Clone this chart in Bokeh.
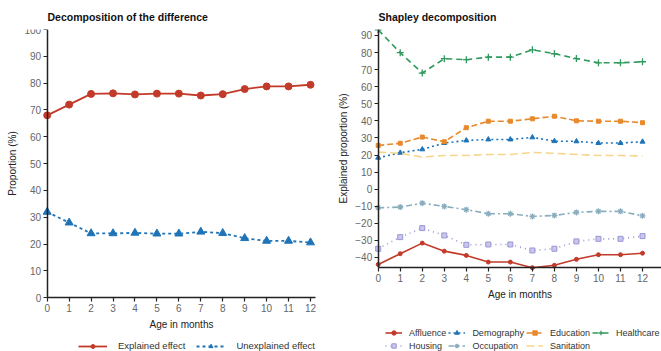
from bokeh.plotting import figure
from bokeh.layouts import row
from bokeh.models import Range1d, FixedTicker, Legend, LegendItem
from bokeh.embed import file_html
from bokeh.resources import INLINE

months = list(range(13))

explained = [68, 72, 76, 76.2, 75.8, 76.1, 76.1, 75.4, 75.9, 77.8, 78.8, 78.8, 79.4]
unexplained = [32, 28, 24, 24, 24.2, 23.9, 23.9, 24.6, 24.1, 22.2, 21.2, 21.2, 20.6]

affluence = [-44.1, -37.8, -31.6, -36.3, -38.8, -42.7, -42.7, -46.0, -44.6, -41.1, -38.4, -38.4, -37.5]
demography = [18.4, 21.3, 23.3, 27.0, 28.5, 29.1, 29.1, 30.3, 28.1, 28.0, 27.0, 27.0, 27.8]
education = [25.6, 26.9, 30.5, 27.8, 36.0, 39.8, 39.8, 41.2, 42.7, 40.0, 39.8, 39.8, 38.9]
healthcare = [93.3, 79.9, 68.0, 76.4, 75.8, 77.3, 77.3, 81.6, 79.3, 76.5, 74.0, 74.0, 74.6]
housing = [-34.9, -28.1, -22.8, -27.1, -32.6, -32.4, -32.4, -35.9, -34.9, -30.6, -29.1, -29.1, -27.5]
occupation = [-10.9, -10.5, -8.2, -10.1, -12.0, -14.4, -14.4, -16.0, -15.4, -13.6, -13.0, -13.0, -15.6]
sanitation = [21.7, 21.0, 18.8, 19.7, 19.7, 20.3, 20.3, 21.5, 21.0, 20.3, 19.7, 19.7, 19.4]

left_yticks = list(range(0, 101, 10))
right_yticks = list(range(-40, 91, 10))

RED = "#c23b2a"
BLUE = "#1f74b8"
ORANGE = "#e8892c"
GREEN = "#2f9a5c"
PURPLE = "#9a96d4"
OCC = "#8aaebe"
SAN = "#f6d68c"

FONT = "Liberation Sans"
H = 351
TOP = 29


def style(p, yticks, xbounds, ybounds, title_offset):
    p.outline_line_color = None
    p.xgrid.grid_line_color = None
    p.ygrid.grid_line_color = None
    p.title.text_font = FONT
    p.title.text_font_size = "10.5px"
    p.title.text_font_style = "bold"
    p.title.text_color = "#111111"
    p.title.standoff = 13
    p.title.offset = title_offset
    for ax in (p.xaxis[0], p.yaxis[0]):
        ax.axis_line_color = "#222222"
        ax.axis_line_width = 1.5
        ax.major_tick_line_color = "#222222"
        ax.major_tick_line_width = 1.2
        ax.major_tick_out = 4
        ax.major_tick_in = 0
        ax.minor_tick_line_color = None
        ax.major_label_text_font = FONT
        ax.major_label_text_font_size = "10px"
        ax.major_label_text_color = "#666666"
        ax.major_label_standoff = 2
        ax.axis_label_text_font = FONT
        ax.axis_label_text_font_size = "10px"
        ax.axis_label_text_font_style = "normal"
        ax.axis_label_text_color = "#222222"
        ax.axis_label_standoff = 4
    p.xaxis[0].ticker = FixedTicker(ticks=months)
    p.yaxis[0].ticker = FixedTicker(ticks=yticks)
    p.xaxis[0].bounds = xbounds
    p.yaxis[0].bounds = ybounds
    p.xaxis[0].fixed_location = ybounds[0]
    p.yaxis[0].fixed_location = xbounds[0]


# ---------------- left panel ----------------
LW = 330
lx_ppu = (310 - 46.7) / 12.0
l_ppu = (297.3 - TOP) / 100.0
l_ymin = -(H - 297.3) / l_ppu
p1 = figure(width=LW, height=H, output_backend="svg", toolbar_location=None,
            x_range=Range1d(-46.7 / lx_ppu, (LW - 46.7) / lx_ppu),
            y_range=Range1d(l_ymin, 100),
            title="Decomposition of the difference",
            min_border_left=0, min_border_top=TOP, min_border_right=0, min_border_bottom=0)
style(p1, left_yticks, (0, 12.25), (0, 100), 47)
p1.xaxis.axis_label = "Age in months"
p1.yaxis.axis_label = "Proportion (%)"

l_exp = p1.line(months, explained, line_color=RED, line_width=1.8)
s_exp = p1.scatter(months, explained, marker="circle", size=7, fill_color=RED, line_color=RED)
l_une = p1.line(months, unexplained, line_color=BLUE, line_width=1.8, line_dash="3 3")
s_une = p1.scatter(months, unexplained, marker="triangle", size=8, fill_color=BLUE, line_color=BLUE)

leg1 = Legend(items=[LegendItem(label="Explained effect", renderers=[l_exp, s_exp]),
                     LegendItem(label="Unexplained effect", renderers=[l_une, s_une])],
              orientation="horizontal", location=(78, 0),
              glyph_width=29, glyph_height=10, label_height=10, label_standoff=11,
              spacing=11, padding=0, margin=0, border_line_color=None,
              background_fill_alpha=0,
              label_text_font=FONT, label_text_font_size="9.5px", label_text_color="#333333")
p1.add_layout(leg1, "center")

# ---------------- right panel ----------------
RW = 331
rx0 = 377.7 - LW
rx_ppu = (642 - 377.7) / 12.0
r_ppu = (267.2 - TOP) / (93.5 + 46)
r_ymin = -46 - (H - 267.2) / r_ppu
r_xmax = (RW - rx0) / rx_ppu
p2 = figure(width=RW, height=H, output_backend="svg", toolbar_location=None,
            x_range=Range1d(-rx0 / rx_ppu, r_xmax), y_range=Range1d(r_ymin, 93.5),
            title="Shapley decomposition",
            min_border_left=0, min_border_top=TOP, min_border_right=0, min_border_bottom=0)
style(p2, right_yticks, (0, r_xmax), (-46, 93.5), 48)
p2.xaxis.axis_label = "Age in months"
p2.yaxis.axis_label = "Explained proportion (%)"

series = [
    ("Affluence", affluence, RED, None, "circle", 4),
    ("Demography", demography, BLUE, "2 3", "triangle", 5),
    ("Education", education, ORANGE, "6 3", "square", 4),
    ("Healthcare", healthcare, GREEN, "6 4", "cross", 7),
    ("Housing", housing, PURPLE, "1 4", "square", 5),
    ("Occupation", occupation, OCC, "6 3 2 3", "asterisk", 6),
    ("Sanitation", sanitation, SAN, "8 4", None, 0),
]

items = []
for name, vals, col, dash, mk, sz in series:
    kw = dict(line_color=col, line_width=1.6)
    if dash:
        kw["line_dash"] = dash
    lr = p2.line(months, vals, **kw)
    rs = [lr]
    if mk:
        if mk in ("cross", "asterisk"):
            sr = p2.scatter(months, vals, marker=mk, size=sz, line_color=col, line_width=1.3)
        elif name == "Housing":
            sr = p2.scatter(months, vals, marker=mk, size=sz, fill_color="#c9c6ec", line_color=col, line_width=1)
        else:
            sr = p2.scatter(months, vals, marker=mk, size=sz, fill_color=col, line_color=col)
        rs.append(sr)
    items.append(LegendItem(label=name, renderers=rs))

leg2 = Legend(items=items, orientation="horizontal", ncols=4, location=(55, 0),
              glyph_width=17, glyph_height=11, label_height=11, label_standoff=7,
              spacing=2, padding=0, margin=0, border_line_color=None,
              background_fill_alpha=0,
              label_text_font=FONT, label_text_font_size="9px", label_text_color="#333333")
p2.add_layout(leg2, "center")

layout = row(p1, p2)
open("out.html", "w").write(file_html(layout, INLINE))
